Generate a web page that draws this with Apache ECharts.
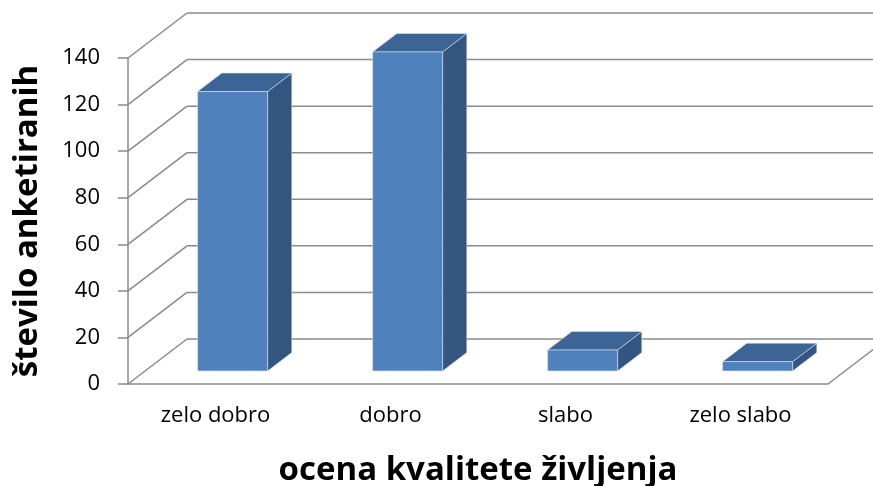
<!DOCTYPE html>
<html>
<head>
<meta charset="utf-8">
<script src="https://cdn.jsdelivr.net/npm/echarts@6/dist/echarts.min.js"></script>
<style>
html,body{margin:0;padding:0;background:#fff;}
#chart{width:873px;height:486px;}
</style>
</head>
<body>
<div id="chart"></div>
<script>
var categories = ['zelo dobro', 'dobro', 'slabo', 'zelo slabo'];
var values = [120, 137, 9, 4];
var yTicks = [0, 20, 40, 60, 80, 100, 120, 140];
var yTitle = 'število anketiranih';
var xTitle = 'ocena kvalitete življenja';

var DX = 59, DY = -45;      // depth projection of the 3D box
var F = 0.29, D = 0.41;     // bar depth position and thickness (fraction of depth)
var BARW = 0.4;             // bar width fraction of category band
var GRID_COLOR = '#8a8a8a';
var FONT = "'Open Sans', sans-serif";

var chart = echarts.init(document.getElementById('chart'), null, {renderer: 'canvas'});

var option = {
  backgroundColor: '#ffffff',
  animation: false,
  grid: {left: 128, right: 45, top: 58, bottom: 102, containLabel: false, outerBoundsMode: 'none'},
  xAxis: {
    type: 'category',
    data: categories,
    axisLine: {show: true, lineStyle: {color: GRID_COLOR, width: 1.5}},
    axisTick: {show: false},
    axisLabel: {fontFamily: FONT, fontSize: 22, color: '#000', margin: 21},
    name: xTitle,
    nameLocation: 'middle',
    nameGap: 70,
    nameTextStyle: {fontFamily: FONT, fontWeight: 'bold', fontSize: 33, color: '#000'}
  },
  yAxis: {
    type: 'value',
    min: 0, max: 140, interval: 20,
    axisLine: {show: true, lineStyle: {color: GRID_COLOR, width: 1.5}},
    axisTick: {show: true, length: 10, lineStyle: {color: GRID_COLOR, width: 1.5}},
    splitLine: {show: false},
    axisLabel: {fontFamily: FONT, fontSize: 22, color: '#000', margin: 28},
    name: yTitle,
    nameLocation: 'middle',
    nameGap: 84,
    nameTextStyle: {fontFamily: FONT, fontWeight: 'bold', fontSize: 33, color: '#000'}
  },
  series: [
    {
      type: 'custom',
      name: 'walls',
      clip: false,
      silent: true,
      z: 1,
      data: yTicks.map(function (v) { return [0, v]; }),
      renderItem: function (params, api) {
        var v = api.value(1);
        var p = api.coord([0, v]);
        var bw = api.size([1, 0])[0];
        var left = p[0] - bw / 2;
        var right = left + bw * categories.length;
        var y = p[1];
        var style = {stroke: GRID_COLOR, lineWidth: 1.5, fill: null};
        var children = [
          {type: 'line', shape: {x1: left, y1: y, x2: left + DX, y2: y + DY}, style: style},
          {type: 'line', shape: {x1: left + DX, y1: y + DY, x2: right + DX + 40, y2: y + DY}, style: style}
        ];
        if (v === 0) {
          children.push({type: 'line', shape: {x1: right, y1: y, x2: right + DX, y2: y + DY}, style: style});
        }
        return {type: 'group', children: children};
      }
    },
    {
      type: 'custom',
      name: 'bars',
      clip: false,
      z: 3,
      data: values.map(function (v, i) { return [i, v]; }),
      renderItem: function (params, api) {
        var idx = api.value(0), v = api.value(1);
        var bw = api.size([1, 0])[0];
        var c = api.coord([idx, v]);
        var b = api.coord([idx, 0]);
        var x0 = c[0] - BARW * bw / 2 + F * DX;
        var x1 = x0 + BARW * bw;
        var yt = c[1] + F * DY;
        var yb = b[1] + F * DY;
        var ddx = D * DX, ddy = D * DY;
        var edge = 'rgba(220,230,245,0.7)';
        return {
          type: 'group',
          children: [
            {type: 'polygon', shape: {points: [[x1, yt], [x1 + ddx, yt + ddy], [x1 + ddx, yb + ddy], [x1, yb]]},
              style: {fill: '#34557f', stroke: edge, lineWidth: 0.8}},
            {type: 'polygon', shape: {points: [[x0, yt], [x0 + ddx, yt + ddy], [x1 + ddx, yt + ddy], [x1, yt]]},
              style: {fill: '#3c6494', stroke: edge, lineWidth: 0.8}},
            {type: 'polygon', shape: {points: [[x0, yt], [x1, yt], [x1, yb], [x0, yb]]},
              style: {fill: '#4f81bd', stroke: edge, lineWidth: 0.8}}
          ]
        };
      }
    }
  ]
};
chart.setOption(option);
</script>
</body>
</html>
